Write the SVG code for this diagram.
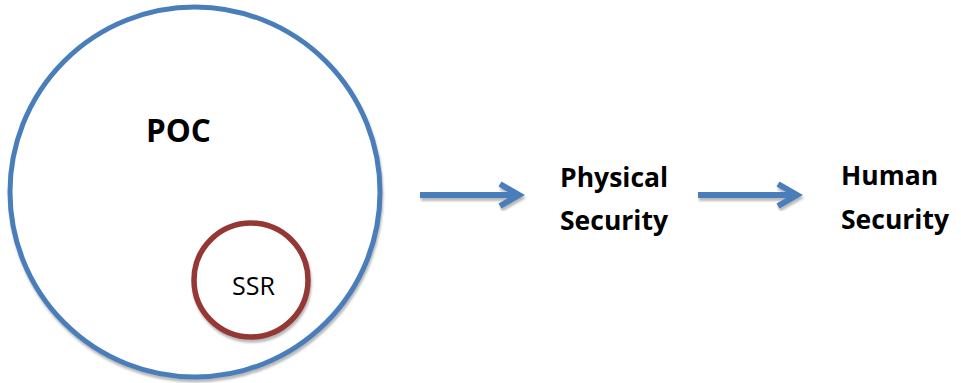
<svg xmlns="http://www.w3.org/2000/svg" width="961" height="383" viewBox="0 0 961 383">
  <defs>
    <filter id="shadow" x="-10%" y="-10%" width="120%" height="130%">
      <feDropShadow dx="1" dy="3" stdDeviation="1.2" flood-color="#8c8c8c" flood-opacity="0.6"/>
    </filter>
  </defs>
  <style>
    .label { font-family: "Open Sans", "Liberation Sans", Arial, sans-serif; font-weight: bold; fill: #000; }
    .small { font-family: "Open Sans", "Liberation Sans", Arial, sans-serif; fill: #000; }
    .outer { fill: #fff; stroke: #4a7ebb; stroke-width: 5; }
    .inner { fill: #fff; stroke: #953735; stroke-width: 5.5; }
    .arrow { fill: none; stroke: #4a7ebb; stroke-width: 6; stroke-linejoin: miter; stroke-miterlimit: 10; }
  </style>
  <rect width="961" height="383" fill="#fff"/>

  <g id="poc">
    <circle class="outer" cx="195" cy="192" r="185" filter="url(#shadow)"/>
    <text class="label" x="146" y="142" font-size="31.5">POC</text>
  </g>

  <g id="ssr">
    <circle class="inner" cx="251" cy="280" r="57" filter="url(#shadow)"/>
    <text class="small" x="232" y="295" font-size="25">SSR</text>
  </g>

  <g id="connectors">
    <g filter="url(#shadow)">
      <path class="arrow" d="M420,195 H517 M500,184 L519,195 L500,206"/>
      <path class="arrow" d="M698,195 H795 M778,184 L797,195 L778,206"/>
    </g>
  </g>

  <g id="physical-security">
    <text class="label" x="560" y="187" font-size="26.5">Physical</text>
    <text class="label" x="560" y="230" font-size="26.5">Security</text>
  </g>

  <g id="human-security">
    <text class="label" x="841" y="185" font-size="26.5">Human</text>
    <text class="label" x="841" y="229" font-size="26.5">Security</text>
  </g>
</svg>
